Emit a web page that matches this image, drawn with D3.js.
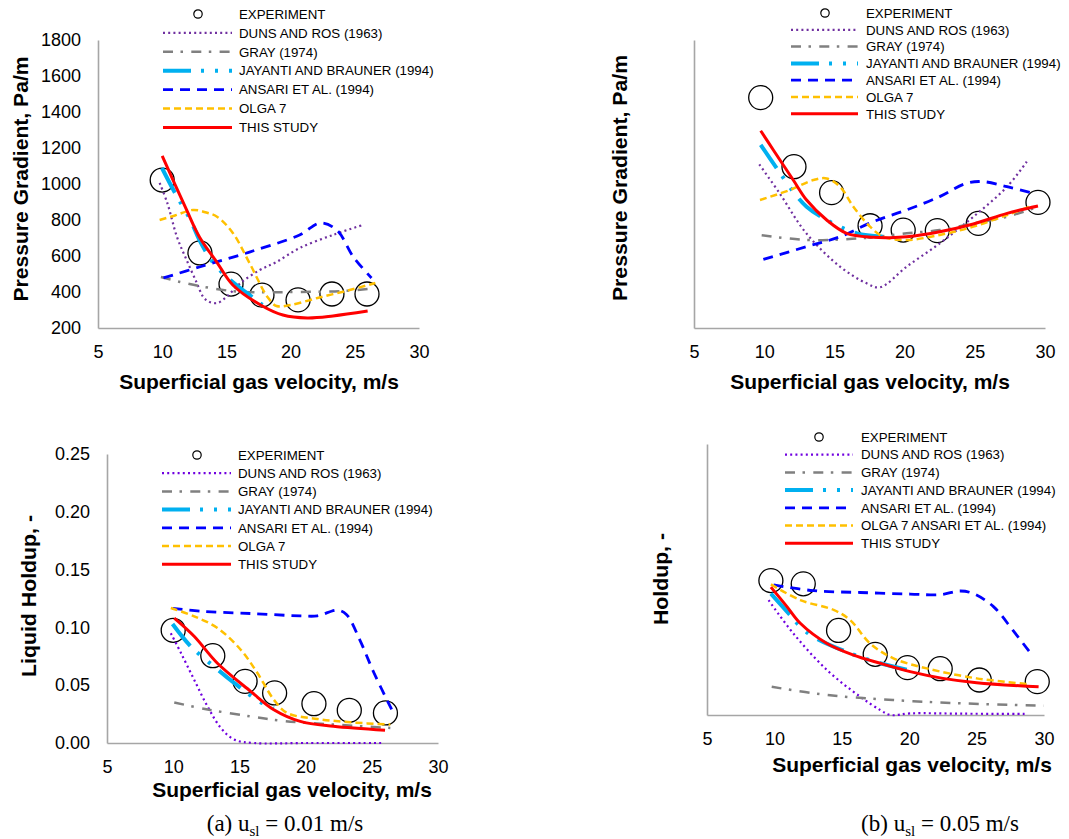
<!DOCTYPE html>
<html><head><meta charset="utf-8">
<script src="https://cdn.jsdelivr.net/npm/d3@7"></script>
<style>body{margin:0;background:#fff}svg{display:block}</style>
</head><body>
<svg id="c" width="1069" height="839"></svg>
<script>
// ---------- tick labels / categories ----------
const xTicks = [5, 10, 15, 20, 25, 30];
const pgTicks = [200, 400, 600, 800, 1000, 1200, 1400, 1600, 1800];
const huTicks = [0.00, 0.05, 0.10, 0.15, 0.20, 0.25];
const legendLabels = ["EXPERIMENT", "DUNS AND ROS (1963)", "GRAY (1974)", "JAYANTI AND BRAUNER (1994)", "ANSARI ET AL. (1994)", "OLGA 7", "THIS STUDY"];
const legendLabelsD = ["EXPERIMENT", "DUNS AND ROS (1963)", "GRAY (1974)", "JAYANTI AND BRAUNER (1994)", "ANSARI ET AL. (1994)", "OLGA 7 ANSARI ET AL. (1994)", "THIS STUDY"];

// ---------- (a) pressure gradient, usl = 0.01 m/s ----------
const pgA_exp = [[10.0,1022],[12.94,617],[15.36,444],[17.77,383],[20.58,356],[23.22,389],[25.95,389]];
const pgA_duns = [[9.8,1006],[10.4,894],[11.15,706],[11.9,578],[12.7,450],[13.2,372],[13.7,344],[14.3,339],[15.0,372],[16.1,450],[17.6,522],[18.9,567],[20.7,644],[23.3,717],[25.6,772]];
const pgA_gray = [[9.9,483],[11.4,456],[12.9,433],[15.5,405],[18.0,398],[20.0,400],[24.0,405],[26.4,420]];
const pgA_jb = [[9.98,1089],[11.0,950],[12.2,800],[12.9,689],[14.0,560],[15.3,467],[16.6,394],[17.8,328]];
const pgA_ansari = [[10.1,478],[12.9,539],[16.8,622],[20.7,717],[22.3,783],[23.6,744],[24.9,594],[26.3,478]];
const pgA_olga = [[9.8,800],[11.0,825],[12.4,856],[13.5,840],[14.3,817],[15.5,728],[16.8,561],[18.2,372],[18.9,322],[20.0,328],[22.1,367],[24.6,411],[26.6,450]];
const pgA_this = [[10.0,1156],[11.9,856],[12.9,706],[14.3,561],[15.5,439],[17.8,322],[19.4,272],[21.3,256],[23.3,267],[26.0,294]];

// ---------- (b) pressure gradient, usl = 0.05 m/s ----------
const pgB_exp = [[9.75,1480],[12.12,1096],[14.8,952],[17.54,768],[19.9,744],[22.33,741],[25.25,781],[29.5,898]];
const pgB_duns = [[9.65,1109],[11.1,948],[13.0,726],[15.4,541],[17.3,448],[18.25,426],[20.15,541],[22.5,670],[24.9,818],[27.3,985],[28.7,1124]];
const pgB_gray = [[9.82,715],[13.02,689],[15.4,692],[17.77,704],[20.15,726],[22.5,744],[24.9,781],[27.3,818],[29.2,865]];
const pgB_jb = [[9.75,1217],[10.9,1087],[12.07,957],[13.02,874],[14.45,800],[16.6,726],[19.0,707]];
const pgB_ansari = [[9.94,581],[13.02,652],[15.4,707],[17.77,791],[20.15,856],[22.5,930],[24.4,1004],[25.6,1013],[27.3,985],[29.2,948]];
const pgB_olga = [[9.7,911],[11.84,967],[13.5,1022],[14.45,1031],[15.4,985],[16.35,874],[17.54,763],[18.48,707],[20.15,689],[22.5,717],[24.9,763],[27.3,828],[28.9,874]];
const pgB_this = [[9.75,1296],[10.65,1189],[12.07,1022],[13.02,911],[14.45,800],[15.87,726],[17.77,704],[18.96,702],[20.15,707],[22.5,735],[24.9,778],[27.3,837],[29.5,878]];

// ---------- (a) liquid holdup, usl = 0.01 m/s ----------
const huA_exp = [[10.0,0.0975],[12.99,0.0755],[15.43,0.0533],[17.66,0.0433],[20.63,0.034],[23.3,0.0283],[26.03,0.026]];
const huA_duns = [[9.82,0.095],[10.58,0.078],[11.58,0.0548],[12.59,0.0317],[13.6,0.013],[14.6,0.003],[16.1,0.0],[20.0,0.0],[25.9,0.0]];
const huA_gray = [[10.08,0.035],[12.6,0.029],[15.85,0.023],[18.4,0.019],[22.1,0.016],[26.4,0.013]];
const huA_jb = [[9.95,0.103],[11.33,0.0836],[13.1,0.066],[14.6,0.052],[16.5,0.036],[17.6,0.030]];
const huA_ansari = [[9.95,0.1165],[12.09,0.114],[15.85,0.112],[19.6,0.110],[20.9,0.110],[22.4,0.115],[23.1,0.111],[24.1,0.089],[25.15,0.061],[26.5,0.029]];
const huA_olga = [[9.82,0.1168],[11.58,0.1096],[13.34,0.0995],[15.1,0.0807],[16.36,0.0605],[17.6,0.0375],[18.6,0.026],[20.9,0.0208],[23.4,0.0179],[26.4,0.0159]];
const huA_this = [[10.08,0.108],[11.58,0.0923],[13.34,0.069],[15.85,0.0447],[17.6,0.0288],[19.6,0.0187],[22.1,0.0144],[26.0,0.011]];

// ---------- (b) holdup, usl = 0.05 m/s ----------
const huB_exp = [[9.74,0.124],[12.14,0.121],[14.76,0.078],[17.48,0.056],[19.87,0.0437],[22.3,0.0427],[25.2,0.0323],[29.5,0.0308]];
const huB_duns = [[9.57,0.106],[11.42,0.075],[13.9,0.0415],[16.36,0.0169],[17.85,0.0046],[18.6,0.0],[20.1,0.0015],[24.0,0.0012],[28.6,0.001]];
const huB_gray = [[9.8,0.026],[13.9,0.0185],[18.8,0.0138],[23.8,0.0108],[29.95,0.0086]];
const huB_jb = [[9.74,0.112],[11.18,0.092],[11.92,0.0815],[12.9,0.072],[15.6,0.057],[17.85,0.0477],[19.95,0.0415]];
const huB_ansari = [[9.94,0.12],[12.9,0.1147],[16.36,0.113],[20.07,0.1116],[22.3,0.111],[23.8,0.1144],[24.76,0.112],[26.25,0.100],[27.7,0.078],[29.2,0.0538]];
const huB_olga = [[9.74,0.1205],[11.92,0.106],[14.39,0.0969],[15.62,0.0876],[17.1,0.066],[18.83,0.0523],[21.3,0.043],[25.0,0.0338],[28.7,0.0286]];
const huB_this = [[9.74,0.118],[10.93,0.100],[11.92,0.0846],[13.9,0.066],[15.87,0.0553],[17.85,0.0477],[20.07,0.040],[22.5,0.0338],[25.0,0.0298],[29.6,0.026]];

// ---------- styles ----------
const SANS = '"Liberation Sans", Arial, sans-serif';
const SERIF = '"Liberation Serif", "Times New Roman", serif';
const AXIS_COLOR = "#a6a6a6";
const styleFor = (purple) => ({
  duns:   {stroke: purple,   width: 2.2, dash: "2 3.2"},
  gray:   {stroke: "#808080", width: 2.5, dash: "10 7.5 2.5 8.3"},
  jb:     {stroke: "#00B0F0", width: 4,   dash: "28 10 3 11 3 11"},
  ansari: {stroke: "#0000FF", width: 2.8, dash: "10 7"},
  olga:   {stroke: "#FFC000", width: 2.5, dash: "7 4"},
  thisS:  {stroke: "#FF0000", width: 3,   dash: null}
});
const seriesKeys = ["duns", "gray", "jb", "ansari", "olga", "thisS"];

const svg = d3.select("#c");

function drawPanel(p) {
  const st = styleFor(p.purple);
  const x = d3.scaleLinear().domain([5, 30]).range([p.left, p.right]);
  const y = d3.scaleLinear().domain(p.yDomain).range([p.bottom, p.top]);
  const g = svg.append("g");

  // x axis
  const gx = g.append("g").attr("transform", `translate(0,${p.bottom})`)
    .call(d3.axisBottom(x).tickValues(xTicks).tickSize(0).tickPadding(17).tickFormat(d3.format("d")));
  gx.select(".domain").attr("stroke", AXIS_COLOR).attr("stroke-width", 1.6);
  gx.selectAll("text").attr("font-family", SANS).attr("font-size", 18).attr("fill", "#000");

  // y axis
  const ya = d3.axisLeft(y).tickSize(0).tickPadding(17);
  if (p.yTicks) ya.tickValues(p.yTicks).tickFormat(p.yFormat); else ya.tickValues([]);
  const gy = g.append("g").attr("transform", `translate(${p.left},0)`).call(ya);
  gy.select(".domain").attr("stroke", AXIS_COLOR).attr("stroke-width", 1.6);
  gy.selectAll("text").attr("font-family", SANS).attr("font-size", 18).attr("fill", "#000");

  // experiment circles
  g.append("g").selectAll("circle").data(p.data.exp).join("circle")
    .attr("cx", d => x(d[0])).attr("cy", d => y(d[1])).attr("r", 12)
    .attr("fill", "none").attr("stroke", "#000").attr("stroke-width", 1.3);

  // model lines
  const line = d3.line().x(d => x(d[0])).y(d => y(d[1])).curve(d3.curveCatmullRom.alpha(0.5));
  seriesKeys.forEach(k => {
    const s = st[k];
    g.append("path").datum(p.data[k]).attr("d", line)
      .attr("fill", "none").attr("stroke", s.stroke).attr("stroke-width", s.width)
      .attr("stroke-dasharray", s.dash).attr("stroke-linejoin", "round");
  });

  // legend
  const L = p.legend;
  const lg = g.append("g");
  p.labels.forEach((lab, i) => {
    const yy = L.y0 + i * L.dy;
    if (i === 0) {
      lg.append("circle").attr("cx", L.cx).attr("cy", yy).attr("r", 4.2)
        .attr("fill", "none").attr("stroke", "#000").attr("stroke-width", 1.2);
    } else {
      const s = st[seriesKeys[i - 1]];
      lg.append("line").attr("x1", L.x0).attr("x2", L.x1).attr("y1", yy).attr("y2", yy)
        .attr("stroke", s.stroke).attr("stroke-width", s.width).attr("stroke-dasharray", s.dash);
    }
    lg.append("text").attr("x", L.tx).attr("y", yy).attr("dy", "0.36em")
      .attr("font-family", SANS).attr("font-size", 13.3).attr("fill", "#000").text(lab);
  });

  // axis titles
  g.append("text").attr("x", p.xTitle[0]).attr("y", p.xTitle[1]).attr("text-anchor", "middle")
    .attr("font-family", SANS).attr("font-size", 21).attr("font-weight", "bold").text("Superficial gas velocity, m/s");
  g.append("text").attr("transform", `translate(${p.yTitle[0]},${p.yTitle[1]}) rotate(-90)`)
    .attr("text-anchor", "middle").attr("font-family", SANS).attr("font-size", 21)
    .attr("font-weight", "bold").attr("textLength", p.yTitleLen).attr("lengthAdjust", "spacingAndGlyphs")
    .text(p.yTitleText);

  // caption
  if (p.caption) {
    const t = g.append("text").attr("x", p.caption.x).attr("y", p.caption.y).attr("text-anchor", "middle")
      .attr("font-family", SERIF).attr("font-size", 23).attr("fill", "#000");
    t.append("tspan").text(p.caption.pre + "u");
    t.append("tspan").attr("font-size", 15).attr("dy", 5).text("sl");
    t.append("tspan").attr("dy", -5).text(" = " + p.caption.val + " m/s");
  }
}

drawPanel({
  left: 98, right: 419, top: 40, bottom: 328, yDomain: [200, 1800],
  yTicks: pgTicks, yFormat: d3.format("d"), purple: "#7030A0",
  data: {exp: pgA_exp, duns: pgA_duns, gray: pgA_gray, jb: pgA_jb, ansari: pgA_ansari, olga: pgA_olga, thisS: pgA_this},
  labels: legendLabels,
  legend: {cx: 198, x0: 163, x1: 232, tx: 239, y0: 14, dy: 18.9},
  xTitle: [259, 389], yTitle: [28, 179], yTitleText: "Pressure Gradient, Pa/m", yTitleLen: 245
});
drawPanel({
  left: 694, right: 1045, top: 40, bottom: 328, yDomain: [200, 1800],
  yTicks: null, purple: "#7030A0",
  data: {exp: pgB_exp, duns: pgB_duns, gray: pgB_gray, jb: pgB_jb, ansari: pgB_ansari, olga: pgB_olga, thisS: pgB_this},
  labels: legendLabels,
  legend: {cx: 825, x0: 791, x1: 858, tx: 866, y0: 13, dy: 16.8},
  xTitle: [870, 389], yTitle: [627, 178], yTitleText: "Pressure Gradient, Pa/m", yTitleLen: 246
});
drawPanel({
  left: 107, right: 438, top: 454, bottom: 743, yDomain: [0, 0.25],
  yTicks: huTicks, yFormat: d3.format(".2f"), purple: "#7000E0",
  data: {exp: huA_exp, duns: huA_duns, gray: huA_gray, jb: huA_jb, ansari: huA_ansari, olga: huA_olga, thisS: huA_this},
  labels: legendLabels,
  legend: {cx: 197, x0: 162, x1: 231, tx: 238, y0: 455, dy: 18.2},
  xTitle: [292, 797], yTitle: [36, 596], yTitleText: "Liquid Holdup, -", yTitleLen: 162,
  caption: {x: 285, y: 831, pre: "(a) ", val: "0.01"}
});
drawPanel({
  left: 707, right: 1044, top: 444, bottom: 715, yDomain: [0, 0.25],
  yTicks: null, purple: "#7000E0",
  data: {exp: huB_exp, duns: huB_duns, gray: huB_gray, jb: huB_jb, ansari: huB_ansari, olga: huB_olga, thisS: huB_this},
  labels: legendLabelsD,
  legend: {cx: 819, x0: 785, x1: 853, tx: 861, y0: 437, dy: 17.7},
  xTitle: [912, 772], yTitle: [668, 579], yTitleText: "Holdup, -", yTitleLen: 92,
  caption: {x: 940, y: 831, pre: "(b) ", val: "0.05"}
});
</script>
</body></html>
